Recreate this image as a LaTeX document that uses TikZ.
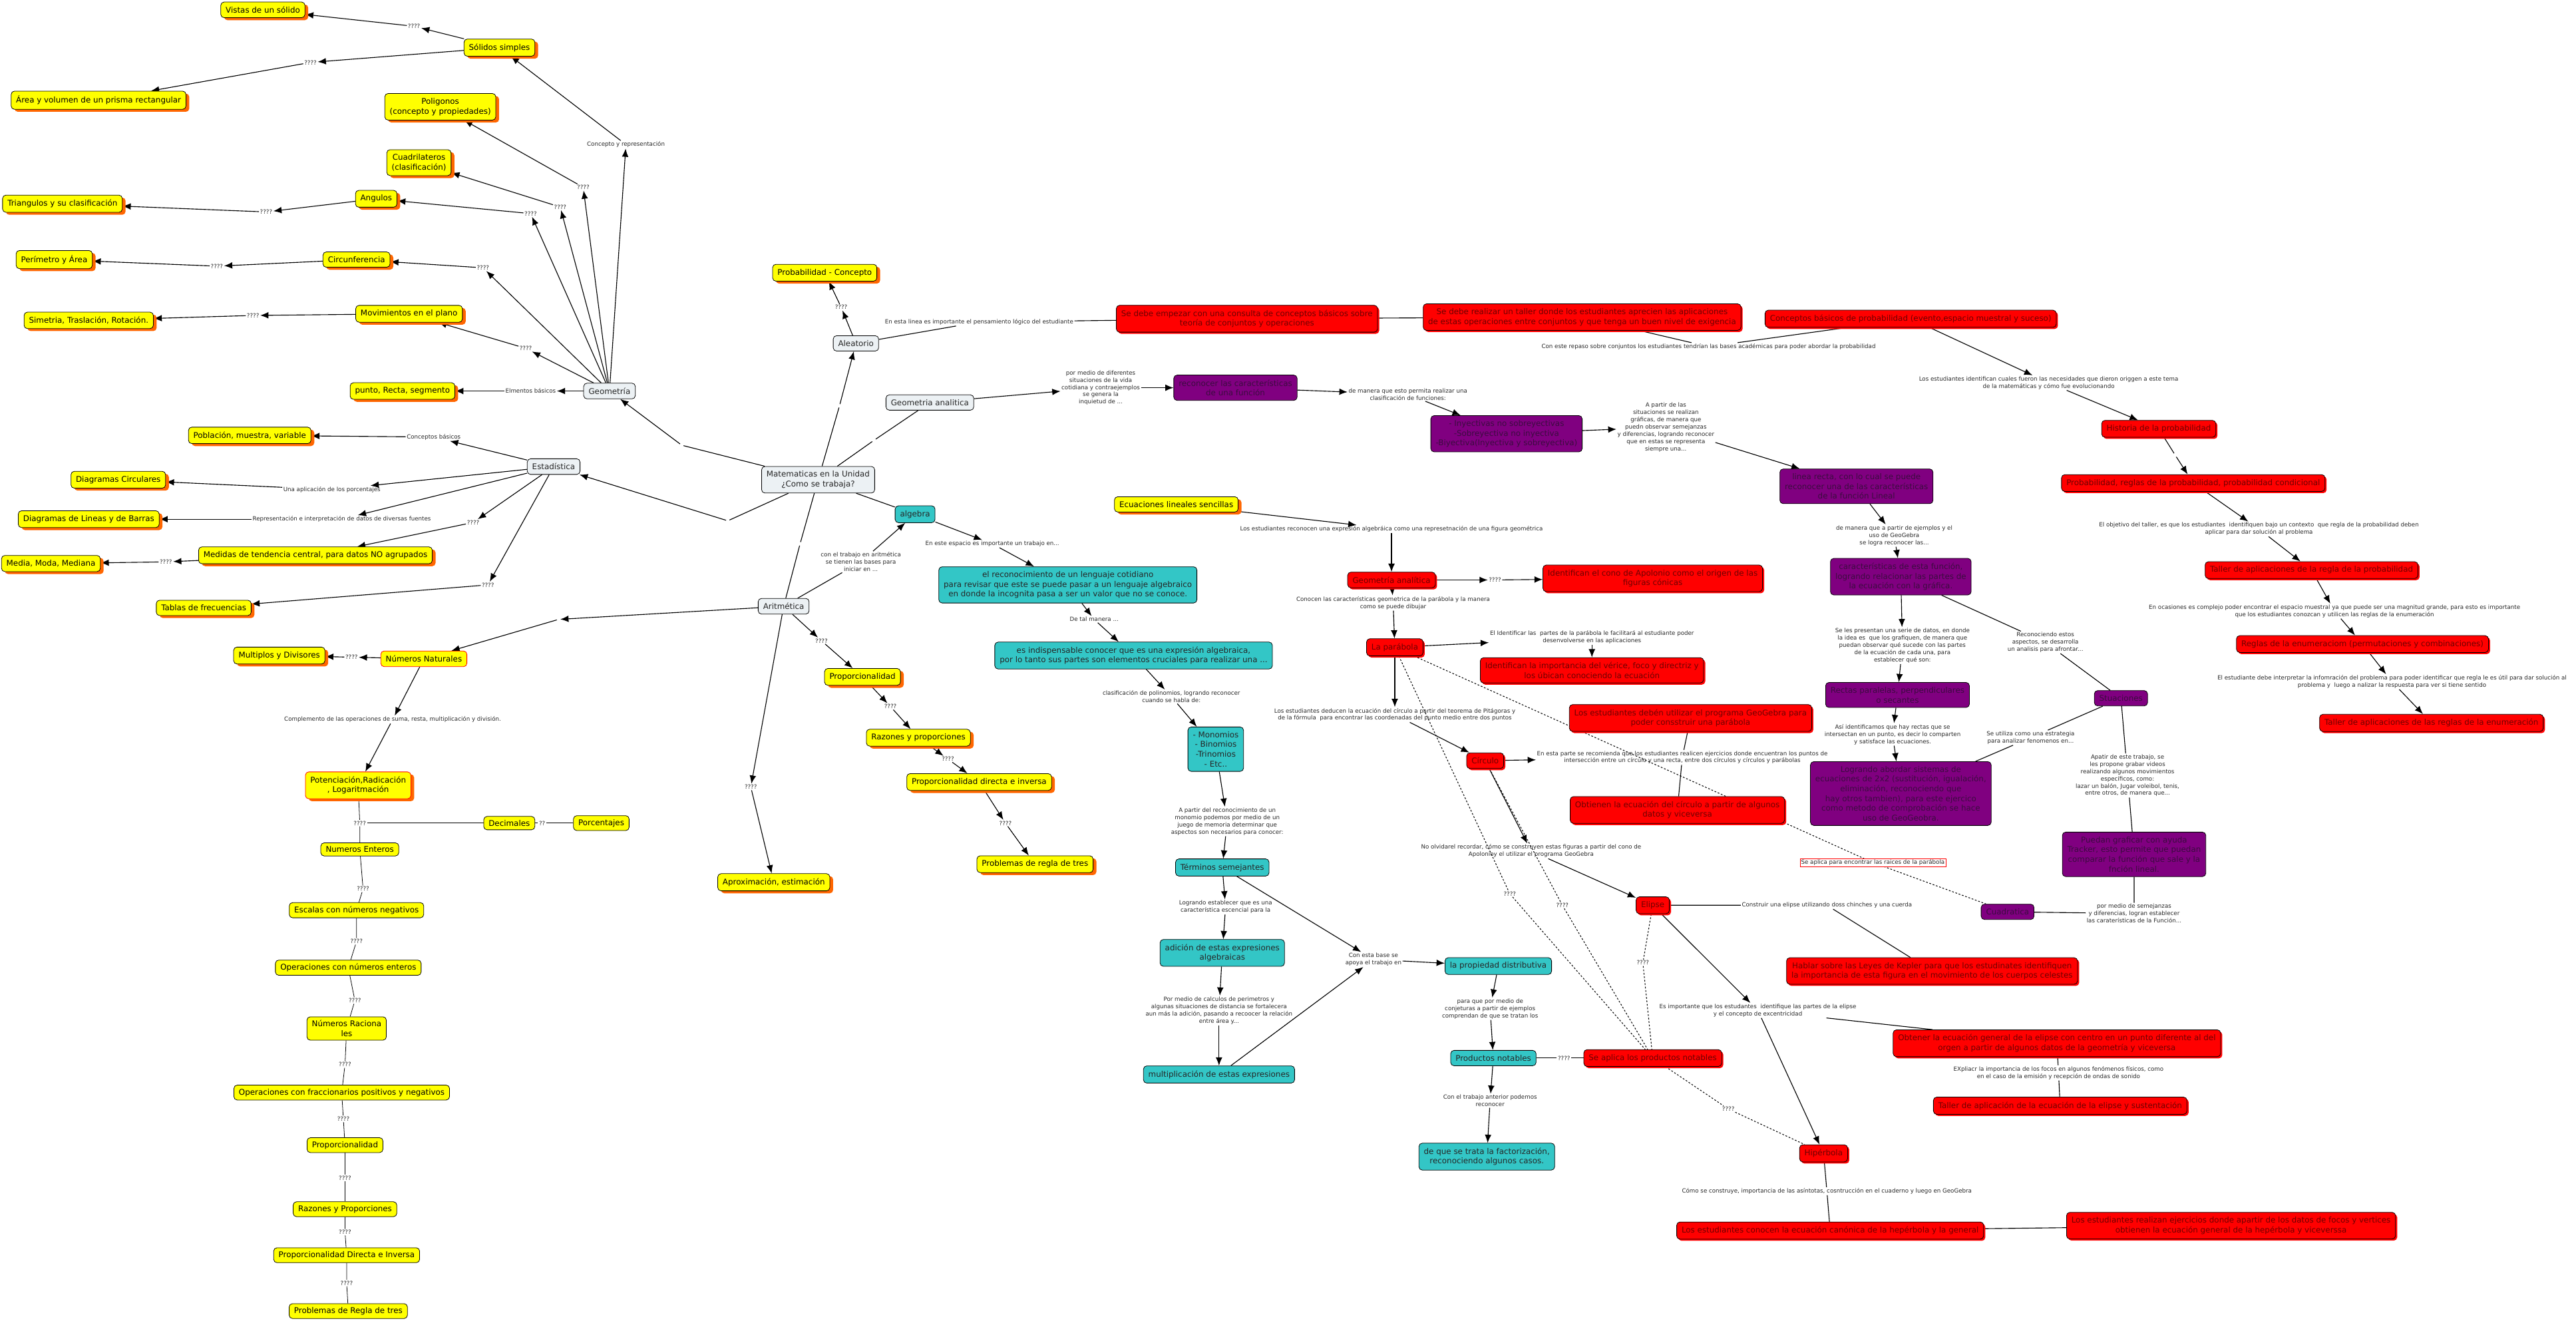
\documentclass[tikz,border=0pt]{standalone}
\usepackage{fontspec}
\setmainfont{DejaVu Sans}
\usetikzlibrary{arrows.meta,shadows,backgrounds}
\definecolor{mapyellow}{HTML}{FFFF00}
\definecolor{mapshadow}{HTML}{FF6600}
\definecolor{mapred}{HTML}{FF0000}
\definecolor{mapredtext}{HTML}{6E0000}
\definecolor{mappurple}{HTML}{800080}
\definecolor{mappurpletext}{HTML}{3C0C40}
\definecolor{mapteal}{HTML}{33C6C6}
\definecolor{mapice}{HTML}{ECF1F4}
\tikzset{
  basebox/.style={
    rounded corners=2mm,
    draw=black,
    line width=0.9pt,
    align=center,
    inner xsep=3mm,
    inner ysep=2.8mm,
    font=\fontsize{13.7}{16.8}\selectfont
  },
  icebox/.style={basebox, fill=mapice, text=black!85},
  yellowbox/.style={basebox, fill=mapyellow,
    drop shadow={shadow xshift=2mm, shadow yshift=-1.5mm, fill=mapshadow, opacity=1}},
  natbox/.style={basebox, fill=mapyellow, draw=mapred},
  chainbox/.style={basebox, fill=mapyellow, inner ysep=2.2mm},
  redbox/.style={basebox, fill=mapred, text=mapredtext,
    drop shadow={shadow xshift=1mm, shadow yshift=-1mm, fill=mapred, opacity=1}},
  purplebox/.style={basebox, fill=mappurple, text=mappurpletext},
  tealbox/.style={basebox, fill=mapteal, text=black!85},
  linktext/.style={align=center, inner sep=0.6mm, font=\fontsize{10}{12.6}\selectfont, text=black!85},
  blanklink/.style={inner sep=1mm},
  arrow/.style={-{Latex[length=5mm,width=4mm]}, line width=1.3pt},
  plainline/.style={line width=1.3pt},
  thinline/.style={line width=0.9pt},
  dashline/.style={line width=1.2pt, dashed}
}
\begin{document}
\begin{tikzpicture}[x=1mm,y=-1mm]
\useasboundingbox (0,0) rectangle (1568,804);
% centro
\node[icebox] (mate) at (498,292) {Matematicas en la Unidad\\¿Como se trabaja?};
\node[icebox] (geometria) at (371,238) {Geometría};
\node[icebox] (estadistica) at (337,284) {Estadística};
\node[icebox] (aleatorio) at (521,209) {Aleatorio};
\node[icebox] (geoanalitica) at (566,245) {Geometria analitica};
\node[tealbox] (algebra) at (557,313) {algebra};
\node[icebox] (aritmetica) at (477,369) {Aritmética};
\node[blanklink] (bgeo) at (415,271) {};
\node[blanklink] (best) at (443,317) {};
\node[blanklink] (bale) at (511,247) {};
\node[blanklink] (bana) at (532,268) {};
\node[blanklink] (bari) at (487,331) {};
\node[blanklink] (bnat) at (340,377) {};
% geometria
\node[yellowbox] (vistas) at (160,6) {Vistas de un sólido};
\node[yellowbox] (solidos) at (304,29) {Sólidos simples};
\node[yellowbox] (prisma) at (60,61) {Área y volumen de un prisma rectangular};
\node[yellowbox] (poligonos) at (268,65) {Poligonos\\(concepto y propiedades)};
\node[yellowbox] (cuadrilateros) at (255,99) {Cuadrilateros\\(clasificación)};
\node[yellowbox] (angulos) at (229,121) {Angulos};
\node[yellowbox] (triangulos) at (38,124) {Triangulos y su clasificación};
\node[yellowbox] (perimetro) at (33,158) {Perímetro y Área};
\node[yellowbox] (circunferencia) at (217,158) {Circunferencia};
\node[yellowbox] (movimientos) at (249,191) {Movimientos en el plano};
\node[yellowbox] (simetria) at (54,195) {Simetria, Traslación, Rotación.};
\node[yellowbox] (puntos) at (245,238) {punto, Recta, segmento};
\node[linktext] (lsol) at (381,88) {Concepto y representación};
\node[linktext] (lvis) at (252,16) {????};
\node[linktext] (lpri) at (189,38) {????};
\node[linktext] (lpol) at (355,114) {????};
\node[linktext] (lcdr) at (341,126) {????};
\node[linktext] (lang) at (323,130) {????};
\node[linktext] (ltri) at (162,129) {????};
\node[linktext] (lcir) at (294,163) {????};
\node[linktext] (lper) at (132,162) {????};
\node[linktext] (lmov) at (320,212) {????};
\node[linktext] (lsim) at (154,192) {????};
\node[linktext] (lpun) at (323,238) {Elmentos básicos};
% estadistica
\node[yellowbox] (poblacion) at (152,265) {Población, muestra, variable};
\node[yellowbox] (circulares) at (72,292) {Diagramas Circulares};
\node[yellowbox] (barras) at (54,316) {Diagramas de Lineas y de Barras};
\node[yellowbox] (medidas) at (192,338) {Medidas de tendencia central, para datos NO agrupados};
\node[yellowbox] (media) at (31,343) {Media, Moda, Mediana};
\node[yellowbox] (tablas) at (124,370) {Tablas de frecuencias};
\node[linktext] (lpob) at (264,266) {Conceptos básicos};
\node[linktext] (lcrc) at (202,298) {Una aplicación de los porcentajes};
\node[linktext] (lbar) at (208,316) {Representación e interpretación de datos de diversas fuentes};
\node[linktext] (lmed) at (288,318) {????};
\node[linktext] (lmda) at (101,342) {????};
\node[linktext] (ltab) at (297,356) {????};
% aritmetica
\node[natbox] (naturales) at (258,401) {Números Naturales};
\node[yellowbox] (multiplos) at (170,399) {Multiplos y Divisores};
\node[linktext] (lmul) at (214,400) {????};
\node[linktext] (lpot) at (239,438) {Complemento de las operaciones de suma, resta, multiplicación y división.};
\node[yellowbox, draw=mapred] (potenciacion) at (218,478) {Potenciación,Radicación\\, Logaritmación};
\node[chainbox] (enteros) at (219,517) {Numeros Enteros};
\node[chainbox] (decimales) at (310,501) {Decimales};
\node[chainbox] (porcentajes) at (366,501) {Porcentajes};
\node[chainbox] (escalas) at (217,554) {Escalas con números negativos};
\node[chainbox] (operenteros) at (212,589) {Operaciones con números enteros};
\node[chainbox] (racionales) at (211,626) {Números Raciona\\les};
\node[chainbox] (fracciones) at (208,665) {Operaciones con fraccionarios positivos y negativos};
\node[chainbox] (proporcion) at (210,697) {Proporcionalidad};
\node[chainbox] (razonesp) at (210,736) {Razones y Proporciones};
\node[chainbox] (directap) at (211,764) {Proporcionalidad Directa e Inversa};
\node[chainbox] (reglap) at (212,798) {Problemas de Regla de tres};
\node[linktext] (lent) at (219,501) {????};
\node[linktext] (ldec) at (330,501) {??};
\node[linktext] (lesc) at (221,541) {????};
\node[linktext] (lope) at (217,573) {????};
\node[linktext] (lrac) at (216,609) {????};
\node[linktext] (lfra) at (210,648) {????};
\node[linktext] (lpr1) at (209,681) {????};
\node[linktext] (lra1) at (210,717) {????};
\node[linktext] (ldi1) at (210,750) {????};
\node[linktext] (lre1) at (211,781) {????};
\node[linktext] (lalg) at (524,342) {con el trabajo en aritmética\\se tienen las bases para\\iniciar en ...};
\node[linktext] (lpro) at (500,390) {????};
\node[yellowbox] (proporc) at (525,412) {Proporcionalidad};
\node[linktext] (lraz) at (542,430) {????};
\node[yellowbox] (razones) at (559,449) {Razones y proporciones};
\node[linktext] (ldir) at (577,462) {????};
\node[yellowbox] (directa) at (596,476) {Proporcionalidad directa e inversa};
\node[linktext] (lreg) at (612,501) {????};
\node[yellowbox] (regla) at (630,526) {Problemas de regla de tres};
\node[linktext] (lapr) at (457,479) {????};
\node[yellowbox] (aproximacion) at (471,537) {Aproximación, estimación};
% algebra
\node[linktext] (llen) at (604,331) {En este espacio es importante un trabajo en...};
\node[tealbox] (lenguaje) at (650,356) {el reconocimiento de un lenguaje cotidiano\\para revisar que este se puede pasar a un lenguaje algebraico\\en donde la incognita pasa a ser un valor que no se conoce.};
\node[linktext] (lexp) at (666,377) {De tal manera ...};
\node[tealbox] (expresion) at (690,399) {es indispensable conocer que es una expresión algebraica,\\por lo tanto sus partes son elementos cruciales para realizar una ...};
\node[linktext] (lmon) at (713,424) {clasificación de polinomios, logrando reconocer\\cuando se habla de:};
\node[tealbox] (monomios) at (740,456) {- Monomios\\- Binomios\\-Trinomios\\- Etc..};
\node[linktext] (lter) at (747,500) {A partir del reconocimiento de un\\monomio podemos por medio de un\\juego de memoria determinar que\\aspectos son necesarios para conocer:};
\node[tealbox] (terminos) at (744,528) {Términos semejantes};
\node[linktext] (ladi) at (746,552) {Logrando establecer que es una\\característica escencial para la};
\node[tealbox] (adicion) at (744,580) {adición de estas expresiones\\algebraicas};
\node[linktext] (lmlt) at (742,615) {Por medio de calculos de perimetros y\\algunas situaciones de distancia se fortalecera\\aun más la adición, pasando a recoocer la relación\\entre área y...};
\node[tealbox] (multiplicacion) at (742,654) {multiplicación de estas expresiones};
\node[linktext] (ldis) at (836,584) {Con esta base se\\apoya el trabajo en};
\node[tealbox] (distributiva) at (912,588) {la propiedad distributiva};
\node[linktext] (lnot) at (907,614) {para que por medio de\\conjeturas a partir de ejemplos\\comprendan de que se tratan los};
\node[tealbox] (notables) at (909,644) {Productos notables};
\node[linktext] (lfac) at (907,670) {Con el trabajo anterior podemos\\reconocer};
\node[tealbox] (factorizacion) at (905,704) {de que se trata la factorización,\\reconociendo algunos casos.};
\node[linktext] (lprd) at (952,644) {????};
\node[redbox] (productos) at (1006,644) {Se aplica los productos notables};
% funciones
\node[linktext] (lrec) at (670,236) {por medio de diferentes\\situaciones de la vida\\cotidiana y contraejemplos\\se genera la\\inquietud de ...};
\node[purplebox] (reconocer) at (752,236) {reconocer las características\\de una función};
\node[linktext] (liny) at (857,240) {de manera que esto permita realizar una\\clasificación de funciones:};
\node[purplebox] (inyectivas) at (917,264) {- Inyectivas no sobreyectivas\\-Sobreyectiva no inyectiva\\-Biyectiva(Inyectiva y sobreyectiva)};
\node[linktext] (llin) at (1014,260) {A partir de las\\situaciones se realizan\\gráficas, de manera que\\puedn observar semejanzas\\y diferencias, logrando reconocer\\que en estas se representa\\siempre una...};
\node[purplebox] (linea) at (1130,296) {linea recta, con lo cual se puede\\reconocer una de las características\\de la función Lineal};
\node[linktext] (lcar) at (1153,326) {de manera que a partir de ejemplos y el\\uso de GeoGebra\\se logra reconocer las...};
\node[purplebox] (caracteristicas) at (1157,351) {características de esta función,\\logrando relacionar las partes de\\la ecuación con la gráfica.};
\node[linktext] (lrct) at (1158,393) {Se les presentan una serie de datos, en donde\\la idea es \ que los grafiquen, de manera que\\puedan observar qué sucede con las partes\\de la ecuación de cada una, para\\establecer qué son:};
\node[purplebox] (rectas) at (1155,423) {Rectas paralelas, perpendiculares\\o secantes};
\node[linktext] (lsis) at (1152,447) {Así identificamos que hay rectas que se\\intersectan en un punto, es decir lo comparten\\y satisface las ecuaciones.};
\node[purplebox] (sistemas) at (1157,483) {Logrando abordar sistemas de\\ecuaciones de 2x2 (sustitución, igualación,\\eliminación, reconociendo que\\hay otros tambien), para este ejercico\\como metodo de comprobación se hace\\uso de GeoGeobra.};
\node[linktext] (lsit) at (1245,391) {Reconociendo estos\\aspectos, se desarrolla\\un analisis para afrontar...};
\node[purplebox] (situaciones) at (1291,425) {Stuaciones};
\node[linktext] (lest) at (1236,449) {Se utiliza como una estrategia\\para analizar fenomenos en...};
\node[linktext] (lvid) at (1295,472) {Apatir de este trabajo, se\\les propone grabar videos\\realizando algunos movimientos\\específicos, como:\\lazar un balón, Jugar voleibol, tenis,\\entre otros, de manera que...};
\node[purplebox] (tracker) at (1299,520) {Puedan graficar con ayuda\\Tracker, esto permite que puedan\\comparar la función que sale y la\\fnción lineal.};
\node[linktext] (lfun) at (1299,556) {por medio de semejanzas\\y diferencias, logran establecer\\las caraterísticas de la Función...};
\node[purplebox] (cuadratica) at (1222,555) {Cuadratica};
\node[linktext, draw=mapred, fill=white] (lrai) at (1140,525) {Se aplica para encontrar las raices de la parábola};
% probabilidad
\node[yellowbox] (probconcepto) at (502,166) {Probabilidad - Concepto};
\node[linktext] (lprb) at (512,187) {????};
\node[linktext] (llog) at (596,196) {En esta linea es importante el pensamiento lógico del estudiante};
\node[redbox] (conjuntos) at (759,194) {Se debe empezar con una consulta de conceptos básicos sobre\\teoría de conjuntos y operaciones};
\node[redbox] (taller) at (963,193) {Se debe realizar un taller donde los estudiantes aprecien las aplicaciones\\de estas operaciones entre conjuntos y que tenga un buen nivel de exigencia};
\node[linktext] (lrep) at (1040,211) {Con este repaso sobre conjuntos los estudiantes tendrían las bases académicas para poder abordar la probabilidad};
\node[redbox] (conceptosprob) at (1163,194) {Conceptos básicos de probabilidad (evento,espacio muestral y suceso)};
\node[linktext] (lhis) at (1247,233) {Los estudiantes identifican cuales fueron las necesidades que dieron origgen a este tema\\de la matemáticas y cómo fue evolucionando};
\node[redbox] (historia) at (1314,261) {Historia de la probabilidad};
\node[blanklink] (bhis) at (1324,277) {};
\node[redbox] (reglasprob) at (1335,294) {Probabilidad, reglas de la probabilidad, probabilidad condicional};
\node[linktext] (lobj) at (1375,322) {El objetivo del taller, es que los estudiantes \ identifiquen bajo un contexto \ que regla de la probabilidad deben\\aplicar para dar solución al problema};
\node[redbox] (tallerprob) at (1407,347) {Taller de aplicaciones de la regla de la probabilidad};
\node[linktext] (locs) at (1421,372) {En ocasiones es complejo poder encontrar el espacio muestral ya que puede ser una magnitud grande, para esto es importante\\que los estudiantes conozcan y utilicen las reglas de la enumeración};
\node[redbox] (enumeracion) at (1438,392) {Reglas de la enumeraciom (permutaciones y combinaciones)};
\node[linktext] (lint) at (1456,415) {El estudiante debe interpretar la infomración del problema para poder identificar que regla le es útil para dar solución al\\problema y \ luego a nalizar la respuesta para ver si tiene sentido};
\node[redbox] (tallerenum) at (1480,440) {Taller de aplicaciones de las reglas de la enumeración};
% conicas
\node[yellowbox] (ecuaciones) at (716,307) {Ecuaciones lineales sencillas};
\node[linktext] (lfig) at (847,322) {Los estudiantes reconocen una expresión algebráica como una represetnación de una figura geométrica};
\node[redbox] (geoanal) at (847,353) {Geometría analítica};
\node[linktext] (lapo) at (910,353) {????};
\node[redbox] (apolonio) at (1006,352) {Identifican el cono de Apolonio como el origen de las\\figuras cónicas};
\node[linktext] (lpar) at (848,367) {Conocen las características geometrica de la parábola y la manera\\como se puede dibujar};
\node[redbox] (parabola) at (849,394) {La parábola};
\node[linktext] (lver) at (969,388) {El Identificar las \ partes de la parábola le facilitará al estudiante poder\\desenvolverse en las aplicaciones};
\node[redbox] (vertice) at (969,408) {Identifican la importancia del vérice, foco y directriz y\\los úbican conociendo la ecuación};
\node[linktext] (lded) at (849,435) {Los estudiantes deducen la ecuación del círculo a partir del teorema de Pitágoras y\\de la fórmula \ para encontrar las coordenadas del punto medio entre dos puntos};
\node[redbox] (geogebra) at (1029,437) {Los estudiantes debén utilizar el programa GeoGebra para\\poder consstruir una parábola};
\node[redbox] (circulo) at (904,463) {Círculo};
\node[linktext] (lcrt) at (1024,461) {En esta parte se recomienda que los estudiantes realicen ejercicios donde encuentran los puntos de\\intersección entre un círculo y una recta, entre dos círculos y círculos y parábolas};
\node[redbox] (obtienen) at (1021,493) {Obtienen la ecuación del círculo a partir de algunos\\datos y viceversa};
\node[linktext] (lolv) at (932,518) {No olvidarel recordar, cómo se construyen estas figuras a partir del cono de\\Apolonioy el utilizar el programa GeoGebra};
\node[redbox] (elipse) at (1006,551) {Elipse};
\node[linktext] (lkep) at (1112,551) {Construir una elipse utilizando doss chinches y una cuerda};
\node[redbox] (kepler) at (1176,591) {Hablar sobre las Leyes de Kepler para que los estudinates identifiquen\\la importancia de esta figura en el movimiento de los cuerpos celestes};
\node[linktext] (lexc) at (1070,615) {Es importante que los estudantes \ identifique las partes de la elipse\\y el concepto de excentricidad};
\node[redbox] (ecgeneral) at (1252,635) {Obtener la ecuación general de la elipse con centro en un punto diferente al del\\orgen a partir de algunos datos de la geometría y viceversa};
\node[linktext] (lfoc) at (1253,653) {EXpliacr la importancia de los focos en algunos fenómenos físicos, como\\en el caso de la emisión y recepción de ondas de sonido};
\node[redbox] (tallerelipse) at (1254,673) {Taller de aplicación de la ecuación de la elipse y sustentación};
\node[redbox] (hiperbola) at (1110,702) {Hipérbola};
\node[linktext] (lasi) at (1112,725) {Cómo se construye, importancia de las asíntotas, cosntrucción en el cuaderno y luego en GeoGebra};
\node[redbox] (canonica) at (1114,749) {Los estudiantes conocen la ecuación canónica de la hepérbola y la general};
\node[redbox] (focos) at (1358,746) {Los estudiantes realizan ejercicios donde apartir de los datos de focos y vertices\\obtienen la ecuación general de la hepérbola y viceverssa};
\node[linktext] (lq1) at (919,544) {????};
\node[linktext] (lq2) at (951,551) {????};
\node[linktext] (lq3) at (1000,586) {????};
\node[linktext] (lq4) at (1052,675) {????};
% conectores
\begin{scope}[on background layer]
\draw[plainline] (mate) -- (bgeo);
\draw[arrow] (bgeo) -- (geometria);
\draw[plainline] (mate) -- (best);
\draw[arrow] (best) -- (estadistica);
\draw[plainline] (mate) -- (bale);
\draw[arrow] (bale) -- (aleatorio);
\draw[plainline] (mate) -- (bana) -- (geoanalitica);
\draw[plainline] (mate) -- (algebra);
\draw[plainline] (mate) -- (bari) -- (aritmetica);
\draw[arrow] (geometria) -- (lsol);
\draw[arrow] (lsol) -- (solidos);
\draw[arrow] (solidos) -- (lvis);
\draw[arrow] (lvis) -- (vistas);
\draw[arrow] (solidos) -- (lpri);
\draw[arrow] (lpri) -- (prisma);
\draw[arrow] (geometria) -- (lpol);
\draw[arrow] (lpol) -- (poligonos);
\draw[arrow] (geometria) -- (lcdr);
\draw[arrow] (lcdr) -- (cuadrilateros);
\draw[arrow] (geometria) -- (lang);
\draw[arrow] (lang) -- (angulos);
\draw[arrow] (angulos) -- (ltri);
\draw[arrow] (ltri) -- (triangulos);
\draw[arrow] (geometria) -- (lcir);
\draw[arrow] (lcir) -- (circunferencia);
\draw[arrow] (circunferencia) -- (lper);
\draw[arrow] (lper) -- (perimetro);
\draw[arrow] (geometria) -- (lmov);
\draw[arrow] (lmov) -- (movimientos);
\draw[arrow] (movimientos) -- (lsim);
\draw[arrow] (lsim) -- (simetria);
\draw[arrow] (geometria) -- (lpun);
\draw[arrow] (lpun) -- (puntos);
\draw[arrow] (estadistica) -- (lpob);
\draw[arrow] (lpob) -- (poblacion);
\draw[arrow] (estadistica) -- (lcrc);
\draw[arrow] (lcrc) -- (circulares);
\draw[arrow] (estadistica) -- (lbar);
\draw[arrow] (lbar) -- (barras);
\draw[arrow] (estadistica) -- (lmed);
\draw[arrow] (lmed) -- (medidas);
\draw[arrow] (medidas) -- (lmda);
\draw[arrow] (lmda) -- (media);
\draw[arrow] (estadistica) -- (ltab);
\draw[arrow] (ltab) -- (tablas);
\draw[arrow] (aritmetica) -- (bnat);
\draw[arrow] (bnat) -- (naturales);
\draw[arrow] (naturales) -- (lmul);
\draw[arrow] (lmul) -- (multiplos);
\draw[arrow] (naturales) -- (lpot);
\draw[arrow] (lpot) -- (potenciacion);
\draw[thinline] (potenciacion) -- (lent) -- (enteros);
\draw[thinline] (lent) -- (decimales);
\draw[thinline] (decimales) -- (ldec) -- (porcentajes);
\draw[thinline] (enteros) -- (lesc) -- (escalas);
\draw[thinline] (escalas) -- (lope) -- (operenteros);
\draw[thinline] (operenteros) -- (lrac) -- (racionales);
\draw[thinline] (racionales) -- (lfra) -- (fracciones);
\draw[thinline] (fracciones) -- (lpr1) -- (proporcion);
\draw[thinline] (proporcion) -- (lra1) -- (razonesp);
\draw[thinline] (razonesp) -- (ldi1) -- (directap);
\draw[thinline] (directap) -- (lre1) -- (reglap);
\draw[plainline] (aritmetica) -- (lalg);
\draw[arrow] (lalg) -- (algebra);
\draw[arrow] (aritmetica) -- (lpro);
\draw[arrow] (lpro) -- (proporc);
\draw[arrow] (proporc) -- (lraz);
\draw[arrow] (lraz) -- (razones);
\draw[arrow] (razones) -- (ldir);
\draw[arrow] (ldir) -- (directa);
\draw[arrow] (directa) -- (lreg);
\draw[arrow] (lreg) -- (regla);
\draw[arrow] (aritmetica) -- (lapr);
\draw[arrow] (lapr) -- (aproximacion);
\draw[arrow] (algebra) -- (llen);
\draw[arrow] (llen) -- (lenguaje);
\draw[arrow] (lenguaje) -- (lexp);
\draw[arrow] (lexp) -- (expresion);
\draw[arrow] (expresion) -- (lmon);
\draw[arrow] (lmon) -- (monomios);
\draw[arrow] (monomios) -- (lter);
\draw[arrow] (lter) -- (terminos);
\draw[arrow] (terminos) -- (ladi);
\draw[arrow] (ladi) -- (adicion);
\draw[arrow] (adicion) -- (lmlt);
\draw[arrow] (lmlt) -- (multiplicacion);
\draw[arrow] (terminos) -- (ldis);
\draw[arrow] (multiplicacion) -- (ldis);
\draw[arrow] (ldis) -- (distributiva);
\draw[arrow] (distributiva) -- (lnot);
\draw[arrow] (lnot) -- (notables);
\draw[arrow] (notables) -- (lfac);
\draw[arrow] (lfac) -- (factorizacion);
\draw[plainline] (notables) -- (lprd) -- (productos);
\draw[arrow] (geoanalitica) -- (lrec);
\draw[arrow] (lrec) -- (reconocer);
\draw[arrow] (reconocer) -- (liny);
\draw[arrow] (liny) -- (inyectivas);
\draw[arrow] (inyectivas) -- (llin);
\draw[arrow] (llin) -- (linea);
\draw[arrow] (linea) -- (lcar);
\draw[arrow] (lcar) -- (caracteristicas);
\draw[arrow] (caracteristicas) -- (lrct);
\draw[arrow] (lrct) -- (rectas);
\draw[arrow] (rectas) -- (lsis);
\draw[arrow] (lsis) -- (sistemas);
\draw[plainline] (caracteristicas) -- (lsit) -- (situaciones);
\draw[plainline] (situaciones) -- (lest) -- (sistemas);
\draw[plainline] (situaciones) -- (lvid) -- (tracker);
\draw[plainline] (tracker) -- (lfun) -- (cuadratica);
\draw[dashline] (parabola) -- (lrai) -- (cuadratica);
\draw[arrow] (aleatorio) -- (lprb);
\draw[arrow] (lprb) -- (probconcepto);
\draw[plainline] (aleatorio) -- (llog) -- (conjuntos);
\draw[plainline] (conjuntos) -- (taller);
\draw[plainline] (taller) -- (lrep) -- (conceptosprob);
\draw[arrow] (conceptosprob) -- (lhis);
\draw[arrow] (lhis) -- (historia);
\draw[plainline] (historia) -- (bhis);
\draw[arrow] (bhis) -- (reglasprob);
\draw[arrow] (reglasprob) -- (lobj);
\draw[arrow] (lobj) -- (tallerprob);
\draw[arrow] (tallerprob) -- (locs);
\draw[arrow] (locs) -- (enumeracion);
\draw[arrow] (enumeracion) -- (lint);
\draw[arrow] (lint) -- (tallerenum);
\draw[arrow] (ecuaciones) -- (lfig);
\draw[arrow] (lfig) -- (geoanal);
\draw[arrow] (geoanal) -- (lapo);
\draw[arrow] (lapo) -- (apolonio);
\draw[arrow] (geoanal) -- (lpar);
\draw[arrow] (lpar) -- (parabola);
\draw[arrow] (parabola) -- (lver);
\draw[arrow] (lver) -- (vertice);
\draw[arrow] (parabola) -- (lded);
\draw[arrow] (lded) -- (circulo);
\draw[arrow] (circulo) -- (lcrt);
\draw[plainline] (lcrt) -- (geogebra);
\draw[plainline] (lcrt) -- (obtienen);
\draw[arrow] (circulo) -- (lolv);
\draw[arrow] (lolv) -- (elipse);
\draw[plainline] (elipse) -- (lkep) -- (kepler);
\draw[arrow] (elipse) -- (lexc);
\draw[arrow] (lexc) -- (hiperbola);
\draw[plainline] (lexc) -- (ecgeneral);
\draw[plainline] (ecgeneral) -- (lfoc) -- (tallerelipse);
\draw[plainline] (hiperbola) -- (lasi) -- (canonica);
\draw[plainline] (canonica) -- (focos);
\draw[dashline] (parabola) -- (lq1) -- (productos);
\draw[dashline] (circulo) -- (lq2) -- (productos);
\draw[dashline] (elipse) -- (lq3) -- (productos);
\draw[dashline] (productos) -- (lq4) -- (hiperbola);
\end{scope}
\end{tikzpicture}
\end{document}
